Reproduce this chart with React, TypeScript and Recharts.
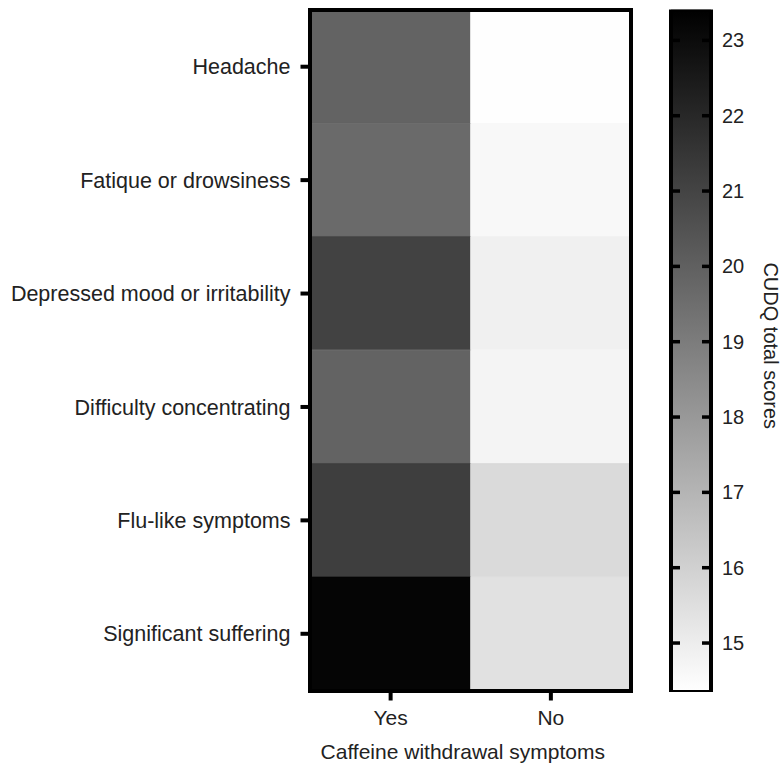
import { BarChart, Bar, Cell, XAxis, YAxis } from "recharts";

const symptoms = [
  "Headache",
  "Fatique or drowsiness",
  "Depressed mood or irritability",
  "Difficulty concentrating",
  "Flu-like symptoms",
  "Significant suffering",
];
const groups = ["Yes", "No"];
const yesScores = [19.9, 19.65, 21.05, 19.9, 21.2, 23.25];
const noScores = [14.4, 14.6, 14.9, 14.75, 15.65, 15.4];

const scaleMin = 14.35;
const scaleMax = 23.41;
const scaleTicks = [15, 16, 17, 18, 19, 20, 21, 22, 23];

const FONT = '"Liberation Sans", Arial, sans-serif';
const TEXT = "#222";

const rows = symptoms.map((symptom, i) => ({
  symptom,
  yes: yesScores[i],
  no: noScores[i],
}));

// linear grey ramp: low = white, high = black
const grey = (v: number) => {
  const t = Math.max(0, Math.min(1, (scaleMax - v) / (scaleMax - scaleMin)));
  const g = Math.round(t * 255);
  return `rgb(${g},${g},${g})`;
};

function ScaleTick({ x, y, payload }: any) {
  return (
    <g>
      <line x1={x - 40} x2={x - 31} y1={y} y2={y} stroke="#000" strokeWidth={3.5} />
      <line x1={x - 9} x2={x} y1={y} y2={y} stroke="#000" strokeWidth={3.5} />
      <text
        x={x + 11}
        y={y}
        dominantBaseline="central"
        fill={TEXT}
        fontSize={20}
        fontFamily={FONT}
      >
        {payload.value}
      </text>
    </g>
  );
}

function ScaleTitle({ viewBox }: any) {
  const cx = viewBox.x + 60;
  const cy = viewBox.y + viewBox.height / 2 - 5;
  return (
    <text
      x={cx}
      y={cy}
      transform={`rotate(90, ${cx}, ${cy})`}
      textAnchor="middle"
      dominantBaseline="central"
      fill={TEXT}
      fontSize={20}
      fontFamily={FONT}
    >
      CUDQ total scores
    </text>
  );
}

export default function App() {
  return (
    <div
      style={{
        position: "absolute",
        left: 0,
        top: 0,
        width: 782,
        height: 766,
        background: "#fff",
        fontFamily: FONT,
      }}
    >
      <div style={{ position: "absolute", left: 0, top: 0 }}>
        <BarChart
          width={640}
          height={766}
          data={rows}
          layout="vertical"
          barCategoryGap={0}
          barGap={0}
          margin={{ top: 10, right: 9, bottom: 5.5, left: 10.5 }}
        >
          <Bar dataKey={() => 1} stackId="cells" isAnimationActive={false}>
            {rows.map((r, i) => (
              <Cell key={`y${i}`} fill={grey(r.yes)} stroke={grey(r.yes)} strokeWidth={1} />
            ))}
          </Bar>
          <Bar dataKey={() => 1} stackId="cells" isAnimationActive={false}>
            {rows.map((r, i) => (
              <Cell key={`n${i}`} fill={grey(r.no)} stroke={grey(r.no)} strokeWidth={1} />
            ))}
          </Bar>

          <YAxis
            type="category"
            dataKey="symptom"
            width={300}
            axisLine={false}
            tickLine={{ stroke: "#000", strokeWidth: 4 }}
            tickSize={10}
            tickMargin={10}
            tick={{ fill: TEXT, fontSize: 21.5, fontFamily: FONT }}
            interval={0}
          />
          <XAxis
            type="number"
            domain={[0, 2]}
            ticks={[0.5, 1.5]}
            tickFormatter={(v: number) => groups[Math.floor(v)]}
            height={70}
            axisLine={false}
            tickLine={{ stroke: "#000", strokeWidth: 4 }}
            tickSize={10}
            tickMargin={10}
            tick={{ fill: TEXT, fontSize: 21, fontFamily: FONT }}
            label={{
              value: "Caffeine withdrawal symptoms",
              position: "insideBottom",
              offset: 1.5,
              dx: -8,
              fill: TEXT,
              fontSize: 21,
              fontFamily: FONT,
            }}
          />
        </BarChart>
      </div>

      {/* frame around the heatmap */}
      <div
        style={{
          position: "absolute",
          left: 308,
          top: 8,
          width: 325,
          height: 685,
          boxSizing: "border-box",
          border: "4px solid #000",
          pointerEvents: "none",
        }}
      />

      <div style={{ position: "absolute", left: 640, top: 0 }}>
        <BarChart
          width={142}
          height={766}
          data={[{ name: "scale", range: [scaleMin, scaleMax] }]}
          barCategoryGap={0}
          margin={{ top: 9.5, right: 11, bottom: 74, left: 31 }}
        >
          <defs>
            <linearGradient id="cudqRamp" x1="0" y1="0" x2="0" y2="1">
              <stop offset="0" stopColor={grey(scaleMax)} />
              <stop offset="1" stopColor={grey(scaleMin)} />
            </linearGradient>
          </defs>
          <XAxis dataKey="name" hide />
          <Bar
            dataKey="range"
            fill="url(#cudqRamp)"
            stroke="#000"
            strokeWidth={4}
            isAnimationActive={false}
          />
          <YAxis
            orientation="right"
            type="number"
            domain={[scaleMin, scaleMax]}
            ticks={scaleTicks}
            allowDataOverflow
            width={60}
            axisLine={false}
            tickLine={false}
            tickSize={0}
            tickMargin={0}
            tick={<ScaleTick />}
            label={<ScaleTitle />}
          />
        </BarChart>
      </div>
    </div>
  );
}
